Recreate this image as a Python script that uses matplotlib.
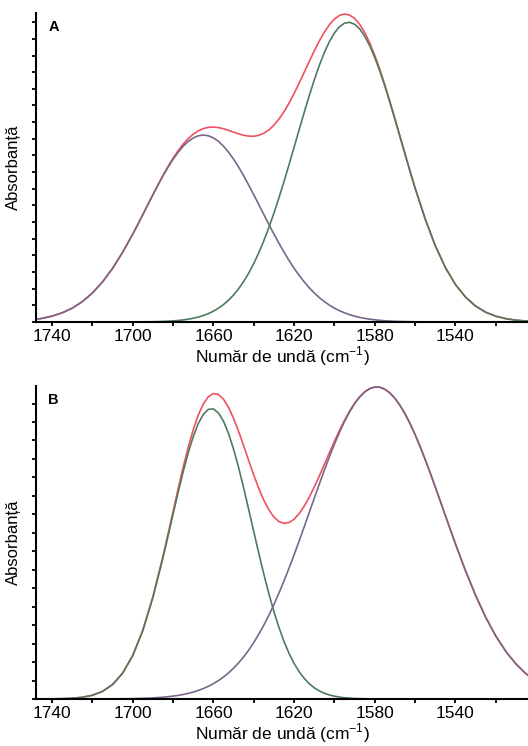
import matplotlib
matplotlib.use("Agg")
import matplotlib.pyplot as plt
from matplotlib.ticker import MultipleLocator

plt.rcParams['font.family'] = ['Liberation Sans', 'DejaVu Sans']

# ---- panel A ----
# wavenumber (cm-1), finer spacing across the band region
wn_a = [1750, 1745, 1740, 1735, 1730, 1725, 1720, 1715, 1710, 1705, 1700,
        1697.5, 1695, 1692.5, 1690, 1687.5, 1685, 1682.5, 1680, 1677.5, 1675,
        1672.5, 1670, 1667.5, 1665, 1662.5, 1660, 1657.5, 1655, 1652.5, 1650,
        1647.5, 1645, 1642.5, 1640, 1637.5, 1635, 1632.5, 1630, 1627.5, 1625,
        1622.5, 1620, 1617.5, 1615, 1612.5, 1610, 1607.5, 1605, 1602.5, 1600,
        1597.5, 1595, 1592.5, 1590, 1587.5, 1585, 1582.5, 1580, 1577.5, 1575,
        1572.5, 1570, 1567.5, 1565, 1562.5, 1560,
        1555, 1550, 1545, 1540, 1535, 1530, 1525, 1520, 1515, 1510, 1505, 1500]

# band near 1665 (purple)
a_band_1665 = [0.0071, 0.0118, 0.0190, 0.0297, 0.0449, 0.0660, 0.0940, 0.1298, 0.1739, 0.2260, 0.2846,
               0.3157, 0.3477, 0.3798, 0.4118, 0.4430, 0.4730, 0.5011, 0.5268, 0.5495, 0.5689,
               0.5844, 0.5957, 0.6027, 0.6050, 0.6027, 0.5957, 0.5844, 0.5689, 0.5495, 0.5268,
               0.5011, 0.4730, 0.4430, 0.4118, 0.3798, 0.3477, 0.3157, 0.2846, 0.2546, 0.2260,
               0.1990, 0.1739, 0.1509, 0.1298, 0.1109, 0.0940, 0.0790, 0.0660, 0.0546, 0.0449,
               0.0366, 0.0297, 0.0238, 0.0190, 0.0150, 0.0118, 0.0092, 0.0071, 0.0054, 0.0041,
               0.0031, 0.0023, 0.0017, 0.0013, 0.0009, 0.0007,
               0.0003, 0.0002, 0.0, 0.0, 0.0, 0.0, 0.0, 0.0, 0.0, 0.0, 0.0, 0.0]

# band near 1593 (green)
a_band_1593 = [0.0, 0.0, 0.0, 0.0, 0.0, 0.0, 0.0, 0.0, 0.0, 0.0001, 0.0002,
               0.0003, 0.0004, 0.0006, 0.0009, 0.0013, 0.0019, 0.0026, 0.0036, 0.0049, 0.0067,
               0.0091, 0.0121, 0.0160, 0.0210, 0.0272, 0.0351, 0.0447, 0.0565, 0.0707, 0.0877,
               0.1078, 0.1313, 0.1584, 0.1893, 0.2243, 0.2632, 0.3059, 0.3524, 0.4022, 0.4548,
               0.5095, 0.5657, 0.6223, 0.6781, 0.7322, 0.7833, 0.8303, 0.8720, 0.9073, 0.9355,
               0.9555, 0.9671, 0.9698, 0.9636, 0.9486, 0.9252, 0.8941, 0.8560, 0.8121, 0.7634,
               0.7108, 0.6559, 0.5997, 0.5432, 0.4874, 0.4335,
               0.3334, 0.2471, 0.1765, 0.1214, 0.0806, 0.0515, 0.0317, 0.0188, 0.0108, 0.0059, 0.0032, 0.0016]

# fitted envelope (red)
a_total = [0.0071, 0.0118, 0.0190, 0.0297, 0.0449, 0.0660, 0.0940, 0.1298, 0.1739, 0.2261, 0.2848,
           0.3160, 0.3481, 0.3804, 0.4127, 0.4443, 0.4749, 0.5037, 0.5304, 0.5544, 0.5756,
           0.5935, 0.6078, 0.6187, 0.6260, 0.6299, 0.6308, 0.6291, 0.6254, 0.6202, 0.6145,
           0.6089, 0.6043, 0.6014, 0.6011, 0.6041, 0.6109, 0.6216, 0.6370, 0.6568, 0.6808,
           0.7085, 0.7396, 0.7732, 0.8079, 0.8431, 0.8773, 0.9093, 0.9380, 0.9619, 0.9804,
           0.9921, 0.9968, 0.9936, 0.9826, 0.9636, 0.9370, 0.9033, 0.8631, 0.8175, 0.7675,
           0.7139, 0.6582, 0.6014, 0.5445, 0.4883, 0.4342,
           0.3337, 0.2473, 0.1765, 0.1214, 0.0806, 0.0515, 0.0317, 0.0188, 0.0108, 0.0059, 0.0032, 0.0016]

# ---- panel B ----
wn_b = [1750, 1745, 1740, 1735, 1730, 1725, 1720, 1715, 1710, 1705, 1700, 1695, 1690, 1685,
        1682.5, 1680, 1677.5, 1675, 1672.5, 1670, 1667.5, 1665, 1662.5, 1660,
        1657.5, 1655, 1652.5, 1650, 1647.5, 1645, 1642.5, 1640, 1637.5, 1635,
        1632.5, 1630, 1627.5, 1625, 1622.5, 1620, 1617.5, 1615, 1612.5, 1610,
        1607.5, 1605, 1602.5, 1600, 1597.5, 1595, 1592.5, 1590, 1587.5, 1585,
        1582.5, 1580, 1577.5, 1575, 1572.5, 1570, 1567.5, 1565, 1562.5, 1560,
        1557.5, 1555, 1552.5, 1550, 1547.5,
        1545, 1540, 1535, 1530, 1525, 1520, 1515, 1510, 1505, 1500]

# band near 1661 (green)
b_band_1661 = [0.0, 0.0001, 0.0004, 0.0010, 0.0024, 0.0055, 0.0120, 0.0242, 0.0462, 0.0825, 0.1386, 0.2187, 0.3243, 0.4517,
               0.5207, 0.5910, 0.6604, 0.7263, 0.7866, 0.8386, 0.8803, 0.9096, 0.9254, 0.9268,
               0.9139, 0.8872, 0.8479, 0.7977, 0.7390, 0.6738, 0.6050, 0.5347, 0.4653, 0.3987,
               0.3362, 0.2791, 0.2282, 0.1837, 0.1455, 0.1135, 0.0872, 0.0659, 0.0490, 0.0359,
               0.0259, 0.0184, 0.0129, 0.0089, 0.0060, 0.0040, 0.0026, 0.0017, 0.0011, 0.0007,
               0.0004, 0.0003, 0.0002, 0.0001, 0.0001, 0.0, 0.0, 0.0, 0.0, 0.0,
               0.0, 0.0, 0.0, 0.0, 0.0,
               0.0, 0.0, 0.0, 0.0, 0.0, 0.0, 0.0, 0.0, 0.0, 0.0]

# band near 1579 (purple)
b_band_1579 = [0.0, 0.0, 0.0, 0.0, 0.0, 0.0, 0.0001, 0.0002, 0.0004, 0.0007, 0.0012, 0.0021, 0.0035, 0.0057,
               0.0073, 0.0092, 0.0116, 0.0145, 0.0180, 0.0223, 0.0273, 0.0334, 0.0406, 0.0491,
               0.0589, 0.0703, 0.0835, 0.0985, 0.1157, 0.1349, 0.1565, 0.1807, 0.2072, 0.2362,
               0.2679, 0.3020, 0.3386, 0.3774, 0.4182, 0.4608, 0.5048, 0.5499, 0.5956, 0.6414,
               0.6866, 0.7310, 0.7737, 0.8143, 0.8520, 0.8864, 0.9169, 0.9432, 0.9645, 0.9807,
               0.9914, 0.9965, 0.9960, 0.9897, 0.9778, 0.9606, 0.9383, 0.9112, 0.8799, 0.8448,
               0.8064, 0.7653, 0.7222, 0.6777, 0.6322,
               0.5864, 0.4959, 0.4099, 0.3311, 0.2613, 0.2016, 0.1520, 0.1121, 0.0807, 0.0568]

# fitted envelope (red)
b_total = [0.0, 0.0001, 0.0004, 0.0010, 0.0024, 0.0055, 0.0121, 0.0244, 0.0466, 0.0832, 0.1398, 0.2208, 0.3278, 0.4574,
           0.5280, 0.6002, 0.6720, 0.7408, 0.8046, 0.8609, 0.9076, 0.9430, 0.9660, 0.9759,
           0.9728, 0.9575, 0.9314, 0.8962, 0.8547, 0.8087, 0.7615, 0.7154, 0.6725, 0.6349,
           0.6041, 0.5811, 0.5668, 0.5611, 0.5637, 0.5743, 0.5920, 0.6158, 0.6446, 0.6773,
           0.7125, 0.7494, 0.7866, 0.8232, 0.8580, 0.8904, 0.9195, 0.9449, 0.9656, 0.9814,
           0.9918, 0.9968, 0.9962, 0.9898, 0.9779, 0.9606, 0.9383, 0.9112, 0.8799, 0.8448,
           0.8064, 0.7653, 0.7222, 0.6777, 0.6322,
           0.5864, 0.4959, 0.4099, 0.3311, 0.2613, 0.2016, 0.1520, 0.1121, 0.0807, 0.0568]

xticks = [1740, 1700, 1660, 1620, 1580, 1540]

red = '#f0505f'
purple = '#7a6688'
green = '#4e7b5d'

fig = plt.figure(figsize=(5.28, 7.46), dpi=100)
ax_a = fig.add_axes([36 / 528, 424 / 746, 492 / 528, 309 / 746])
ax_b = fig.add_axes([36 / 528, 47 / 746, 492 / 528, 313 / 746])


def style_axes(ax, letter, ystep):
    ax.set_xlim(1748, 1504)
    ax.set_ylim(0, 1)
    for side in ['top', 'right']:
        ax.spines[side].set_visible(False)
    ax.spines['left'].set_linewidth(1.5)
    ax.spines['bottom'].set_linewidth(1.5)
    ax.set_xticks(xticks)
    ax.set_xticklabels([str(t) for t in xticks], fontsize=12.5)
    ax.xaxis.set_minor_locator(MultipleLocator(20))
    ax.yaxis.set_major_locator(MultipleLocator(ystep))
    ax.set_yticklabels([])
    ax.tick_params(axis='both', which='both', direction='out', length=3, width=1.3, pad=2)
    ax.set_xlabel('Număr de undă (cm$^{\\mathregular{-1}}$)', fontsize=12.5, labelpad=0)
    ax.set_ylabel('Absorbanță', fontsize=12, labelpad=6)
    ax.text(0.025, 0.955, letter, transform=ax.transAxes, fontsize=10.5,
            fontweight='bold', va='center', ha='left')


ax_a.plot(wn_a, a_total, color=red, lw=1.2)
ax_a.plot(wn_a, a_band_1665, color=purple, lw=1.2)
ax_a.plot(wn_a, a_band_1593, color=green, lw=1.2)
style_axes(ax_a, 'A', 0.0539)

ax_b.plot(wn_b, b_total, color=red, lw=1.2)
ax_b.plot(wn_b, b_band_1661, color=green, lw=1.2)
ax_b.plot(wn_b, b_band_1579, color=purple, lw=1.2)
style_axes(ax_b, 'B', 0.059)

fig.savefig('out.png', dpi=100)
